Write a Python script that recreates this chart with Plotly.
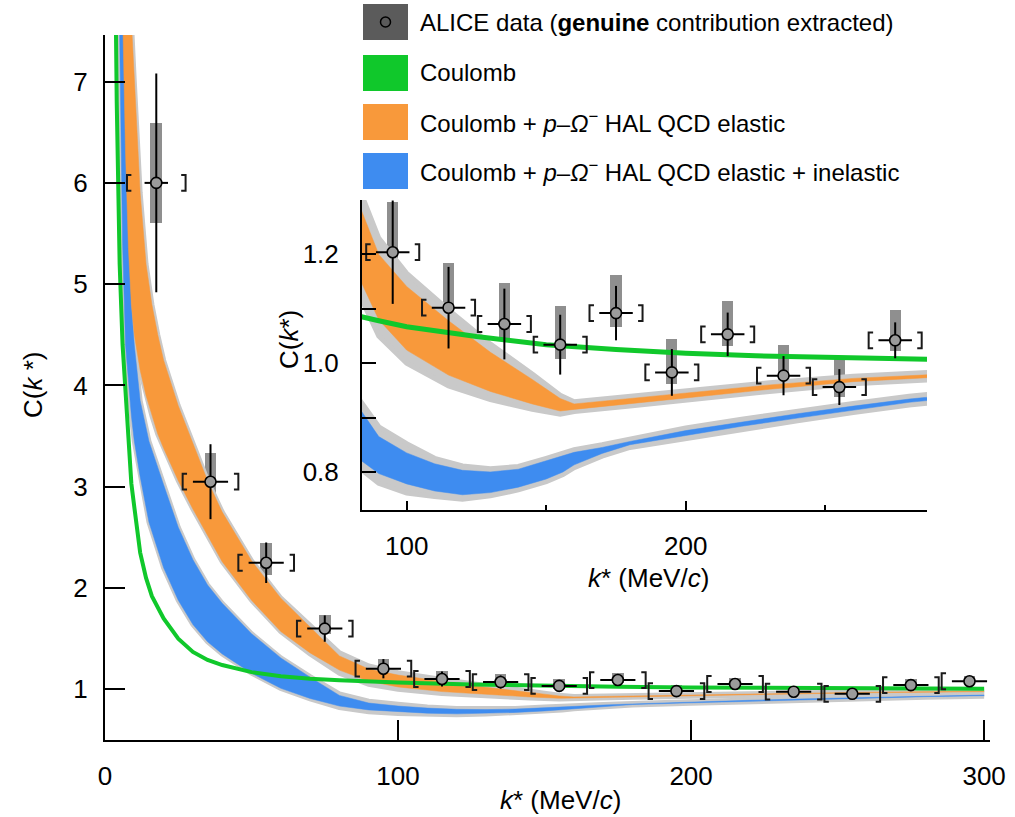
import numpy as np
import plotly.graph_objects as go

# ---------------- data ----------------
k_data = [17.5, 36, 55, 75, 95, 115, 135, 155, 175, 195, 215, 235, 255, 275, 295]
C_data = [6.0, 3.05, 2.25, 1.60, 1.204, 1.102, 1.072, 1.034, 1.092, 0.983, 1.053, 0.977, 0.956, 1.042, 1.08]
stat_err = [1.08, 0.37, 0.20, 0.13, 0.095, 0.075, 0.065, 0.055, 0.05, 0.043, 0.04, 0.036, 0.033, 0.033, 0.033]
sys_hi = [0.59, 0.28, 0.19, 0.13, 0.093, 0.082, 0.076, 0.071, 0.070, 0.061, 0.062, 0.056, 0.054, 0.056, 0.055]
sys_lo = [0.40, 0.17, 0.12, 0.05, 0.042, 0.035, 0.030, 0.027, 0.026, 0.022, 0.022, 0.021, 0.019, 0.019, 0.019]
k_err = [4, 6, 6, 6, 6, 6, 6, 6, 6, 6, 6, 6, 6, 6, 6]
bin_half = [10, 9.5, 9.5, 9.5, 9.5, 9.5, 9.5, 9.5, 9.5, 9.5, 9.5, 9.5, 9.5, 9.5, 9.5]

# Coulomb
k_coul = [3, 3.5, 4, 4.5, 5, 6, 7, 8, 9, 10, 12, 14, 16, 20, 25, 30, 35, 40, 50, 60, 70, 80, 90,
          100, 125, 150, 175, 200, 225, 250, 275, 300]
C_coul = [9.5, 7.8, 6.8, 6.0, 5.2, 4.4, 3.9, 3.4, 3.03, 2.8, 2.35, 2.1, 1.92, 1.7, 1.5, 1.37, 1.29, 1.24,
          1.17, 1.13, 1.105, 1.09, 1.078, 1.067, 1.049, 1.034, 1.025, 1.018, 1.0135, 1.010, 1.008, 1.006]

# Coulomb + HAL QCD elastic (orange band)
k_el = [6, 7, 8, 9, 10, 12, 14, 16, 18, 20, 25, 30, 35, 40, 50, 60, 70, 80, 90, 100, 115, 130, 145,
        155, 160, 180, 200, 230, 260, 300]
el_lo = [7.7, 6.3, 5.35, 4.8, 4.5, 4.15, 3.9, 3.7, 3.52, 3.38, 3.06, 2.78, 2.52, 2.26, 1.88, 1.57, 1.36,
         1.19, 1.08, 1.024, 0.978, 0.948, 0.925, 0.912, 0.915, 0.925, 0.936, 0.952, 0.966, 0.977]
el_hi = [11.0, 10.0, 8.5, 7.6, 7.0, 5.9, 5.2, 4.8, 4.5, 4.25, 3.8, 3.42, 3.06, 2.75, 2.27, 1.9, 1.62,
         1.33, 1.20, 1.141, 1.078, 1.02, 0.97, 0.935, 0.925, 0.935, 0.945, 0.960, 0.972, 0.982]
el_unc = [0, 0, 0, 0, 0, 0, 0, 0, 0, 0, 0, 0, 0, 0, 0, 0, 0.01, 0.03, 0.03, 0.024, 0.02, 0.015, 0.01,
          0.006, 0.004, 0.004, 0.004, 0.004, 0.004, 0.004]

# Coulomb + HAL QCD elastic + inelastic (blue band)
k_inel = [5, 6, 7, 8, 9, 10, 12, 15, 20, 25, 30, 35, 40, 50, 60, 70, 80, 90, 100, 110, 120, 130, 140,
          150, 156, 160, 170, 180, 200, 220, 240, 260, 280, 300]
inel_lo = [7.46, 5.4, 4.4, 4.0, 3.7, 3.45, 3.1, 2.65, 2.2, 1.88, 1.64, 1.47, 1.35, 1.16, 1.01, 0.91, 0.835,
           0.797, 0.778, 0.765, 0.758, 0.762, 0.772, 0.787, 0.800, 0.813, 0.834, 0.850, 0.867, 0.884,
           0.899, 0.914, 0.928, 0.938]
inel_hi = [11.0, 8.4, 6.8, 5.6, 4.8, 4.4, 3.85, 3.45, 3.02, 2.6, 2.28, 2.03, 1.85, 1.55, 1.31, 1.12, 0.94,
           0.865, 0.835, 0.815, 0.803, 0.80, 0.805, 0.82, 0.830, 0.836, 0.845, 0.856, 0.876, 0.892, 0.907,
           0.921, 0.934, 0.944]
inel_unc = [0, 0, 0, 0, 0, 0, 0, 0, 0, 0, 0, 0, 0, 0, 0, 0.005, 0.015, 0.018, 0.017, 0.01, 0.008, 0.006,
            0.005, 0.005, 0.005, 0.005, 0.005, 0.005, 0.005, 0.005, 0.005, 0.005, 0.005, 0.005]

legend_labels = [
    "ALICE data (<b>genuine</b> contribution extracted)",
    "Coulomb",
    "Coulomb + <i>p</i>\u2013<i>\u03a9</i><sup>\u2212</sup> HAL QCD elastic",
    "Coulomb + <i>p</i>\u2013<i>\u03a9</i><sup>\u2212</sup> HAL QCD elastic + inelastic",
]

# ---------------- styling ----------------
W, H = 1015, 817
FONT = "Liberation Sans, Arial, Helvetica, sans-serif"
GREEN = "#10c82b"
ORANGE = "#f8993b"
BLUE = "#3e8cf0"
GREYBAND = "#c9c9c9"
SYSGREY = "#8f8f8f"


def fx(p):
    return p / W


def fy(p):
    return 1 - p / H


fig = go.Figure()

kd = np.array(k_data, float)
Cd = np.array(C_data, float)
st = np.array(stat_err, float)
sh = np.array(sys_hi, float)
sl = np.array(sys_lo, float)
ke = np.array(k_err, float)
bh = np.array(bin_half, float)


def bracket_path(x, y, half, h, s):
    xs, ys = [], []
    for xi, yi, bi in zip(x, y, half):
        xs += [xi - bi + s, xi - bi, xi - bi, xi - bi + s, None,
               xi + bi - s, xi + bi, xi + bi, xi + bi - s, None]
        ys += [yi + h, yi + h, yi - h, yi - h, None, yi + h, yi + h, yi - h, yi - h, None]
    return xs, ys


def add_set(xa, ya, mask, green_w, bh_y, bs_x):
    for kk, lo, hi, unc in [
        (k_inel, inel_lo, inel_hi, inel_unc),
        (k_el, el_lo, el_hi, el_unc),
    ]:
        kk = np.array(kk, float)
        lo = np.array(lo, float)
        hi = np.array(hi, float)
        unc = np.array(unc, float)
        fig.add_trace(go.Scatter(x=kk, y=lo - unc, mode="lines", line=dict(color=GREYBAND, width=5),
                                 xaxis=xa, yaxis=ya, showlegend=False, hoverinfo="skip"))
        fig.add_trace(go.Scatter(x=kk, y=hi + unc, mode="lines", line=dict(color=GREYBAND, width=5),
                                 fill="tonexty", fillcolor=GREYBAND,
                                 xaxis=xa, yaxis=ya, showlegend=False, hoverinfo="skip"))
    for kk, lo, hi, col in [
        (k_inel, inel_lo, inel_hi, BLUE),
        (k_el, el_lo, el_hi, ORANGE),
    ]:
        fig.add_trace(go.Scatter(x=kk, y=lo, mode="lines", line=dict(color=col, width=0.5),
                                 xaxis=xa, yaxis=ya, showlegend=False, hoverinfo="skip"))
        fig.add_trace(go.Scatter(x=kk, y=hi, mode="lines", line=dict(color=col, width=0.5),
                                 fill="tonexty", fillcolor=col,
                                 xaxis=xa, yaxis=ya, showlegend=False, hoverinfo="skip"))
    fig.add_trace(go.Scatter(x=k_coul, y=C_coul, mode="lines", line=dict(color=GREEN, width=green_w),
                             xaxis=xa, yaxis=ya, showlegend=False, hoverinfo="skip"))
    # systematic boxes
    fig.add_trace(go.Bar(x=kd[mask], y=(sh + sl)[mask], base=(Cd - sl)[mask], width=4, offset=-2,
                         marker=dict(color=SYSGREY, line=dict(width=0)),
                         xaxis=xa, yaxis=ya, showlegend=False, hoverinfo="skip"))
    # brackets
    bx, by = bracket_path(kd[mask], Cd[mask], bh[mask], bh_y, bs_x)
    fig.add_trace(go.Scatter(x=bx, y=by, mode="lines", line=dict(color="#1a1a1a", width=2),
                             connectgaps=False, xaxis=xa, yaxis=ya, showlegend=False, hoverinfo="skip"))
    # data points
    fig.add_trace(go.Scatter(x=kd[mask], y=Cd[mask], mode="markers",
                             marker=dict(symbol="circle", size=11, color="#9b9b9b",
                                         line=dict(color="black", width=1.6)),
                             error_y=dict(type="data", array=st[mask], width=0, thickness=2, color="black"),
                             error_x=dict(type="data", array=ke[mask], width=0, thickness=2, color="black"),
                             xaxis=xa, yaxis=ya, showlegend=False, hoverinfo="skip"))


add_set("x", "y", np.ones(len(kd), bool), 4, 0.078, 1.5)
add_set("x2", "y2", (kd > 84) & (kd < 286), 5, 0.0145, 1.6)

tickfont = dict(family=FONT, size=26, color="black")
axis_common = dict(showline=True, linecolor="black", linewidth=2, ticks="inside", tickcolor="black",
                   tickwidth=2, showgrid=False, zeroline=False, tickfont=tickfont, automargin=False,
                   mirror=False)

fig.update_layout(
    width=W, height=H,
    margin=dict(l=0, r=0, t=0, b=0),
    paper_bgcolor="white", plot_bgcolor="white",
    showlegend=False,
    xaxis=dict(domain=[fx(105), fx(990)], range=[0, 302], anchor="y",
               tickvals=[0, 100, 200, 300], ticklen=20, ticklabelstandoff=12, **axis_common),
    yaxis=dict(domain=[fy(740), fy(35)], range=[0.5, 7.46], anchor="x",
               tickvals=[1, 2, 3, 4, 5, 6, 7], ticklen=20, ticklabelstandoff=10, **axis_common),
    xaxis2=dict(domain=[fx(362), fx(927)], range=[84, 286.4], anchor="y2",
                tickvals=[100, 200], ticklen=9, ticklabelstandoff=12,
                minor=dict(tickvals=[150, 250], ticklen=5, tickwidth=2, tickcolor="black", ticks="inside"),
                **axis_common),
    yaxis2=dict(domain=[fy(510), fy(200)], range=[0.73, 1.30], anchor="x2",
                tickvals=[0.8, 0.9, 1.0, 1.1, 1.2, 1.3], ticktext=["0.8", "", "1.0", "", "1.2", ""],
                ticklen=14, ticklabelstandoff=16, **axis_common),
    bargap=0,
)

ann = []
titlefont = dict(family=FONT, size=26, color="black")
ann.append(dict(x=fx(560), y=fy(800), xref="paper", yref="paper", text="<i>k</i>* (MeV/<i>c</i>)",
                showarrow=False, font=titlefont, xanchor="center", yanchor="middle"))
ann.append(dict(x=fx(33), y=fy(385), xref="paper", yref="paper", text="C(<i>k</i> *)",
                showarrow=False, font=titlefont, textangle=-90, xanchor="center", yanchor="middle"))
ann.append(dict(x=fx(648), y=fy(578), xref="paper", yref="paper", text="<i>k</i>* (MeV/<i>c</i>)",
                showarrow=False, font=titlefont, xanchor="center", yanchor="middle"))
ann.append(dict(x=fx(289), y=fy(340), xref="paper", yref="paper", text="C(<i>k</i>*)",
                showarrow=False, font=titlefont, textangle=-90, xanchor="center", yanchor="middle"))

# custom legend
shapes = []
row_y = [22, 73, 122, 171]
sw_cols = ["#5b5b5b", GREEN, ORANGE, BLUE]
for ry, col, lab in zip(row_y, sw_cols, legend_labels):
    shapes.append(dict(type="rect", xref="paper", yref="paper", x0=fx(363), x1=fx(408),
                       y0=fy(ry - 18), y1=fy(ry + 18), fillcolor=col, line=dict(width=0), layer="above"))
    ann.append(dict(x=fx(418), y=fy(ry), xref="paper", yref="paper", text=lab, showarrow=False,
                    font=dict(family=FONT, size=24, color="black"), xanchor="left", yanchor="middle"))
shapes.append(dict(type="circle", xref="paper", yref="paper", x0=fx(380.5), x1=fx(390.5),
                   y0=fy(17), y1=fy(27), line=dict(color="black", width=1.5), fillcolor="#5b5b5b",
                   layer="above"))

fig.update_layout(annotations=ann, shapes=shapes)
fig.write_html("out.html")
